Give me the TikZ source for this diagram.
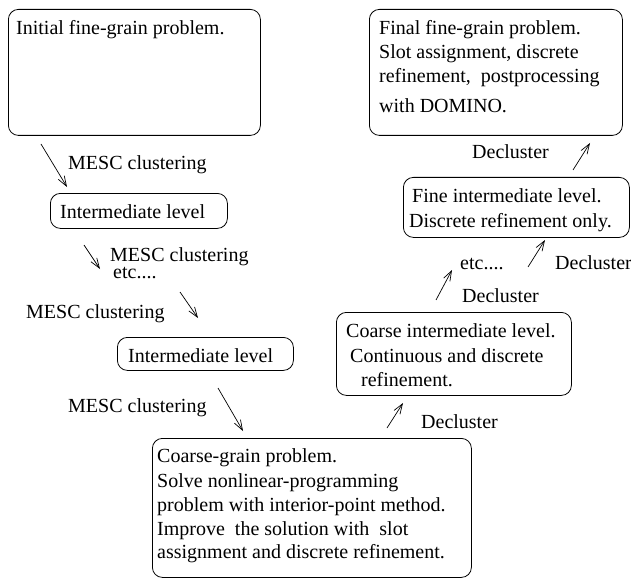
\documentclass[tikz,border=0pt]{standalone}
\usepackage{fontspec}
\setmainfont{Liberation Serif}
\newfontfamily\tnr{Liberation Serif}
\usetikzlibrary{arrows.meta}
\begin{document}
\begin{tikzpicture}[x=1pt,y=-1pt,
  box/.style={draw, rounded corners=10pt, line width=0.8pt, inner sep=0pt, anchor=north west},
  txt/.style={anchor=base west, inner sep=0pt, font=\tnr\fontsize{20}{24}\selectfont},
  arr/.style={-{Straight Barb[length=10pt,width=7pt]}, line width=0.7pt}]
\useasboundingbox (0,0) rectangle (631,580);
% boxes
\node[box, minimum width=252pt, minimum height=126pt] (b1) at (8,9) {};
\node[box, minimum width=177pt, minimum height=35pt] (b2) at (50,193) {};
\node[box, minimum width=176pt, minimum height=33pt] (b3) at (117,337) {};
\node[box, minimum width=319pt, minimum height=139pt] (b4) at (152,438) {};
\node[box, minimum width=235pt, minimum height=83pt] (b5) at (336,312) {};
\node[box, minimum width=226pt, minimum height=60pt] (b6) at (403,177) {};
\node[box, minimum width=253pt, minimum height=126pt] (b7) at (369,9) {};
% texts
\node[txt] (t1) at (16,35) {Initial fine-grain problem.};
\node[txt] (m1) at (68,169) {MESC clustering};
\node[txt] (t2) at (60,218) {Intermediate level};
\node[txt] (m2) at (110,261) {MESC clustering};
\node[txt] (e1) at (113,278) {etc....};
\node[txt] (m3) at (26,318) {MESC clustering};
\node[txt] (t3) at (128,362) {Intermediate level};
\node[txt] (m4) at (68,412) {MESC clustering};
\node[txt] (c1) at (157,462) {Coarse-grain problem.};
\node[txt] (c2) at (157,487) {Solve nonlinear-programming};
\node[txt] (c3) at (157,511) {problem with interior-point method.};
\node[txt] (c4) at (157,535) {Improve\ \ the solution with\ \ slot};
\node[txt] (c5) at (157,558) {assignment and discrete refinement.};
\node[txt] (d5) at (421,428) {Decluster};
\node[txt] (k1) at (346,337) {Coarse intermediate level.};
\node[txt] (k2) at (350,362) {Continuous and discrete};
\node[txt] (k3) at (361,386) {refinement.};
\node[txt] (d6) at (462,302) {Decluster};
\node[txt] (e2) at (460,269) {etc....};
\node[txt] (d7) at (555,269) {Decluster};
\node[txt] (f1) at (412,202) {Fine intermediate level.};
\node[txt] (f2) at (409,227) {Discrete refinement only.};
\node[txt] (d8) at (472,159) {Decluster};
\node[txt] (g1) at (379,35) {Final fine-grain problem.};
\node[txt] (g2) at (379,59) {Slot assignment, discrete};
\node[txt] (g3) at (379,83) {refinement,\ \ postprocessing};
\node[txt] (g4) at (379,113) {with DOMINO.};
% arrows
\coordinate (a1s) at (41,144); \coordinate (a1e) at (67,187);
\coordinate (a2s) at (84,245); \coordinate (a2e) at (100,269);
\coordinate (a3s) at (180,292); \coordinate (a3e) at (198,318);
\coordinate (a4s) at (218,388); \coordinate (a4e) at (243,431);
\coordinate (a5s) at (387,428); \coordinate (a5e) at (403,403);
\coordinate (a6s) at (436,300); \coordinate (a6e) at (452,270);
\coordinate (a7s) at (528,267); \coordinate (a7e) at (545,240);
\coordinate (a8s) at (573,170); \coordinate (a8e) at (590,143);
\foreach \i in {1,...,8} \draw[arr] (a\i s) -- (a\i e);
\end{tikzpicture}
\end{document}
